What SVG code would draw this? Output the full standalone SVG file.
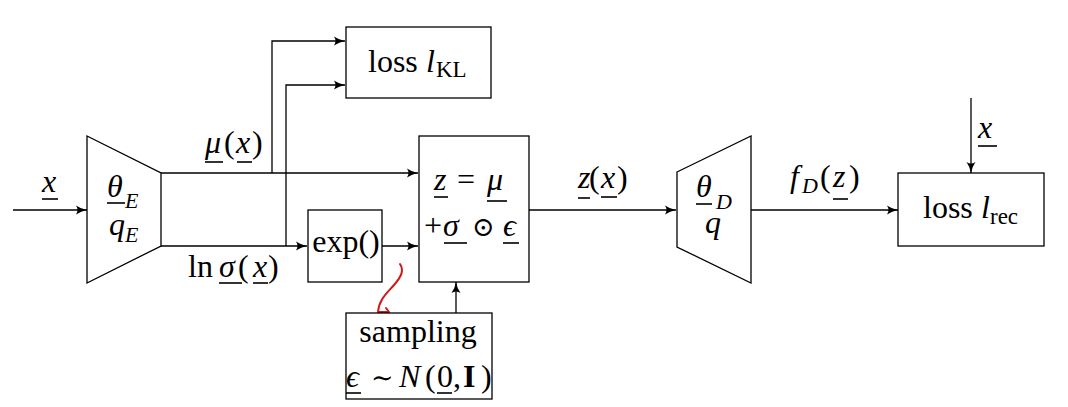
<svg xmlns="http://www.w3.org/2000/svg" width="1068" height="407" viewBox="0 0 1068 407">
<style>
.t{font-family:"Liberation Serif","DejaVu Serif",serif;font-size:32px;fill:#000}
.i{font-style:italic}
.s{font-size:22px}
.b{font-weight:bold}
.op{font-size:27px}
.ul{stroke:#000;stroke-width:1.6}
.box{fill:#fff;stroke:#000;stroke-width:1.3}
.ln{fill:none;stroke:#000;stroke-width:1.3;marker-end:url(#ar)}
.red{fill:none;stroke:#d01818;stroke-width:2;stroke-linecap:round;stroke-linejoin:round}
</style>
<defs>
<marker id="ar" markerUnits="userSpaceOnUse" markerWidth="12" markerHeight="10" viewBox="0 -5 12 10" refX="11" refY="0" orient="auto">
<path d="M0,-4.5 Q5,-1 11,0 Q5,1 0,4.5 Q3,0 0,-4.5z" fill="#000"/>
</marker>
</defs>
<rect width="1068" height="407" fill="#fff"/>
<g id="connectors">
<path class="ln" d="M13,210 H87"/>
<path class="ln" d="M161,173 H418"/>
<path class="ln" d="M272,173 V41 H345"/>
<path class="ln" d="M161,246 H307"/>
<path class="ln" d="M286,246 V85 H345"/>
<path class="ln" d="M382,246 H418"/>
<path class="ln" d="M456,313 V282"/>
<path class="ln" d="M529,210 H676"/>
<path class="ln" d="M751,210 H898"/>
<path class="ln" d="M971,98 V173"/>
<path class="red" d="M400,264 C404,270 402,276 394,285 C386,294 379,300 378,312 L388,312 M386,308 L389,312"/>
</g>
<g id="labels">
<text class="t i" x="42" y="192">x</text><line class="ul" x1="42" y1="199" x2="58" y2="199"/>
<text class="t" y="153"><tspan class="i" x="205">μ</tspan><tspan x="224">(</tspan><tspan class="i" x="236">x</tspan><tspan x="252">)</tspan></text>
<line class="ul" x1="205" y1="162" x2="223" y2="162"/><line class="ul" x1="237" y1="162" x2="252" y2="162"/>
<text class="t" y="277"><tspan x="188">ln</tspan><tspan class="i" x="219">σ</tspan><tspan x="238">(</tspan><tspan class="i" x="253">x</tspan><tspan x="268">)</tspan></text>
<line class="ul" x1="219" y1="283" x2="242" y2="283"/><line class="ul" x1="253" y1="283" x2="268" y2="283"/>
<text class="t" y="188"><tspan class="i" x="578">z</tspan><tspan x="589">(</tspan><tspan class="i" x="601">x</tspan><tspan x="617">)</tspan></text>
<line class="ul" x1="578" y1="198" x2="590" y2="198"/><line class="ul" x1="601" y1="197" x2="617" y2="197"/>
<text class="t i" x="790" y="187">f</text><text class="t i s" x="802" y="193">D</text>
<text class="t" y="187"><tspan x="820">(</tspan><tspan class="i" x="833">z</tspan><tspan x="849">)</tspan></text>
<line class="ul" x1="833" y1="199" x2="848" y2="199"/>
<text class="t i" x="978" y="138">x</text><line class="ul" x1="978" y1="146" x2="997" y2="146"/>
</g>
<g id="encoder">
<polygon class="box" points="87,136 161,173 161,246 87,283"/>
<text class="t i" x="107" y="197">θ</text><text class="t i s" x="125" y="208">E</text>
<line class="ul" x1="107" y1="203" x2="125" y2="203"/>
<text class="t i" x="109" y="235">q</text><text class="t i s" x="125" y="242">E</text>
</g>
<g id="lossKL">
<rect class="box" x="346" y="27" width="145" height="71"/>
<text class="t" x="368" y="72">loss</text><text class="t i" x="426" y="72">l</text><text class="t s" x="436" y="77" style="font-size:23px">KL</text>
</g>
<g id="exp">
<rect class="box" x="308" y="210" width="74" height="72"/>
<text class="t" x="346" y="252" text-anchor="middle">exp()</text>
</g>
<g id="reparam">
<rect class="box" x="419" y="136" width="110" height="146"/>
<text class="t" y="190"><tspan class="i" x="434">z</tspan><tspan x="457">=</tspan><tspan class="i" x="487">μ</tspan></text>
<line class="ul" x1="434" y1="197" x2="448" y2="197"/><line class="ul" x1="487" y1="201" x2="507" y2="201"/>
<text class="t" y="236"><tspan x="424">+</tspan><tspan class="i" x="443">σ</tspan><tspan class="op" x="472">⊙</tspan><tspan class="i" x="503">ϵ</tspan></text>
<line class="ul" x1="444" y1="243" x2="467" y2="243"/><line class="ul" x1="503" y1="243" x2="519" y2="243"/>
</g>
<g id="sampling">
<rect class="box" x="346" y="313" width="146" height="86"/>
<text class="t" x="418" y="342" text-anchor="middle">sampling</text>
<text class="t" y="387"><tspan class="i" x="346">ϵ</tspan><tspan class="op" x="371">∼</tspan><tspan class="i" x="399">N</tspan><tspan x="425">(</tspan><tspan x="437">0</tspan><tspan x="453">,</tspan><tspan class="b" x="463">I</tspan><tspan x="481">)</tspan></text>
<line class="ul" x1="346" y1="393" x2="361" y2="393"/><line class="ul" x1="437" y1="393" x2="452" y2="393"/>
</g>
<g id="decoder">
<polygon class="box" points="677,172 751,136 751,283 677,247"/>
<text class="t i" x="696" y="197">θ</text><text class="t i s" x="716" y="209">D</text>
<line class="ul" x1="696" y1="204" x2="712" y2="204"/>
<text class="t i" x="705" y="233">q</text>
</g>
<g id="lossRec">
<rect class="box" x="898" y="173" width="146" height="73"/>
<text class="t" x="923" y="218">loss</text><text class="t i" x="981" y="218">l</text><text class="t" x="990" y="224" style="font-size:23px">rec</text>
</g>
</svg>
